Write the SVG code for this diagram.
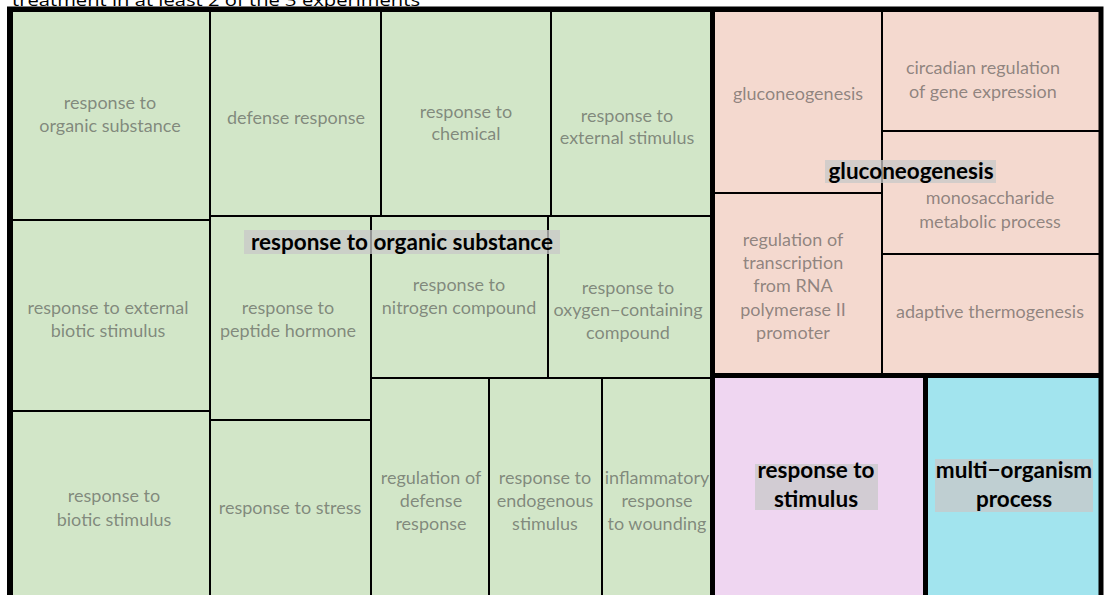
<svg xmlns="http://www.w3.org/2000/svg" width="1109" height="595" viewBox="0 0 1109 595">
<style>
.g{fill:#d2e6c8}
.p{fill:#f4d9cf}
.v{fill:#efd6f1}
.c{fill:#a2e4ee}
.t{stroke:#000;stroke-width:2}
.lbl{font-family:Lato,"Liberation Sans",sans-serif;font-size:18px;fill:#444;fill-opacity:0.58;text-anchor:middle}
.big{font-family:Lato,"Liberation Sans",sans-serif;font-size:22.5px;font-weight:bold;fill:#000;text-anchor:middle}
.bg{fill:#c8c8c8;fill-opacity:0.75}
.thick{stroke:#000;stroke-width:5;fill:none}
</style>
<rect width="1109" height="595" fill="#fff"/>
<text x="12" y="6" font-family="Open Sans,Liberation Sans,sans-serif" font-size="17" fill="#000" textLength="408" lengthAdjust="spacingAndGlyphs">treatment in at least 2 of the 3 experiments</text>

<g id="n-response-organic">
<rect class="g t" x="12" y="11" width="198" height="209"/>
<text class="lbl" x="110" y="109">response to</text>
<text class="lbl" x="110" y="132">organic substance</text>
</g>
<g id="n-defense-response">
<rect class="g t" x="210" y="11" width="171" height="205"/>
<text class="lbl" x="296" y="124">defense response</text>
</g>
<g id="n-response-chemical">
<rect class="g t" x="381" y="11" width="170" height="205"/>
<text class="lbl" x="466" y="118">response to</text>
<text class="lbl" x="466" y="140">chemical</text>
</g>
<g id="n-response-external">
<rect class="g t" x="551" y="11" width="161" height="205"/>
<text class="lbl" x="627" y="122">response to</text>
<text class="lbl" x="627" y="144">external stimulus</text>
</g>
<g id="n-external-biotic">
<rect class="g t" x="12" y="220" width="198" height="191"/>
<text class="lbl" x="108" y="314">response to external</text>
<text class="lbl" x="108" y="337">biotic stimulus</text>
</g>
<g id="n-peptide-hormone">
<rect class="g t" x="210" y="216" width="161" height="204"/>
<text class="lbl" x="288" y="314">response to</text>
<text class="lbl" x="288" y="337">peptide hormone</text>
</g>
<g id="n-nitrogen">
<rect class="g t" x="371" y="216" width="177" height="162"/>
<text class="lbl" x="459" y="291">response to</text>
<text class="lbl" x="459" y="314">nitrogen compound</text>
</g>
<g id="n-oxygen">
<rect class="g t" x="548" y="216" width="164" height="162"/>
<text class="lbl" x="628" y="294">response to</text>
<text class="lbl" x="628" y="316">oxygen−containing</text>
<text class="lbl" x="628" y="339">compound</text>
</g>
<g id="n-biotic-stimulus">
<rect class="g t" x="12" y="411" width="198" height="190"/>
<text class="lbl" x="114" y="502">response to</text>
<text class="lbl" x="114" y="526">biotic stimulus</text>
</g>
<g id="n-stress">
<rect class="g t" x="210" y="420" width="161" height="181"/>
<text class="lbl" x="290" y="514">response to stress</text>
</g>
<g id="n-reg-defense">
<rect class="g t" x="371" y="378" width="118" height="223"/>
<text class="lbl" x="431" y="484">regulation of</text>
<text class="lbl" x="431" y="507">defense</text>
<text class="lbl" x="431" y="530">response</text>
</g>
<g id="n-endogenous">
<rect class="g t" x="489" y="378" width="113" height="223"/>
<text class="lbl" x="545" y="484">response to</text>
<text class="lbl" x="545" y="507">endogenous</text>
<text class="lbl" x="545" y="530">stimulus</text>
</g>
<g id="n-inflammatory">
<rect class="g t" x="602" y="378" width="110" height="223"/>
<text class="lbl" x="657" y="484">inflammatory</text>
<text class="lbl" x="657" y="507">response</text>
<text class="lbl" x="657" y="530">to wounding</text>
</g>

<g id="n-gluconeogenesis">
<rect class="p t" x="712" y="11" width="170" height="182"/>
<text class="lbl" x="798" y="100">gluconeogenesis</text>
</g>
<g id="n-circadian">
<rect class="p t" x="882" y="11" width="219" height="120"/>
<text class="lbl" x="983" y="74">circadian regulation</text>
<text class="lbl" x="983" y="98">of gene expression</text>
</g>
<g id="n-monosaccharide">
<rect class="p t" x="882" y="131" width="219" height="123"/>
<text class="lbl" x="990" y="204">monosaccharide</text>
<text class="lbl" x="990" y="228">metabolic process</text>
</g>
<g id="n-reg-transcription">
<rect class="p t" x="712" y="193" width="170" height="182"/>
<text class="lbl" x="793" y="246">regulation of</text>
<text class="lbl" x="793" y="269">transcription</text>
<text class="lbl" x="793" y="292">from RNA</text>
<text class="lbl" x="793" y="316">polymerase II</text>
<text class="lbl" x="793" y="339">promoter</text>
</g>
<g id="n-adaptive-thermogenesis">
<rect class="p t" x="882" y="254" width="219" height="121"/>
<text class="lbl" x="990" y="318">adaptive thermogenesis</text>
</g>

<g id="n-response-stimulus">
<rect class="v" x="712" y="375" width="214" height="220"/>
</g>
<g id="n-multi-organism">
<rect class="c" x="926" y="375" width="175" height="220"/>
</g>

<g id="borders">
<path class="thick" d="M9.5 595 V9 H1101 V595 M712.5 9 V595 M712 375.5 H1101 M925.5 375 V595"/>
</g>

<g id="group-labels">
<rect class="bg" x="244" y="230" width="316" height="24"/>
<text class="big" x="402" y="250">response to organic substance</text>
<rect class="bg" x="825" y="160" width="171" height="23"/>
<text class="big" x="911" y="179">gluconeogenesis</text>
<rect class="bg" x="755" y="464" width="123" height="46"/>
<text class="big" x="816" y="478">response to</text>
<text class="big" x="816" y="507">stimulus</text>
<rect class="bg" x="935" y="459" width="158" height="53"/>
<text class="big" x="1014" y="478">multi−organism</text>
<text class="big" x="1014" y="507">process</text>
</g>
</svg>
